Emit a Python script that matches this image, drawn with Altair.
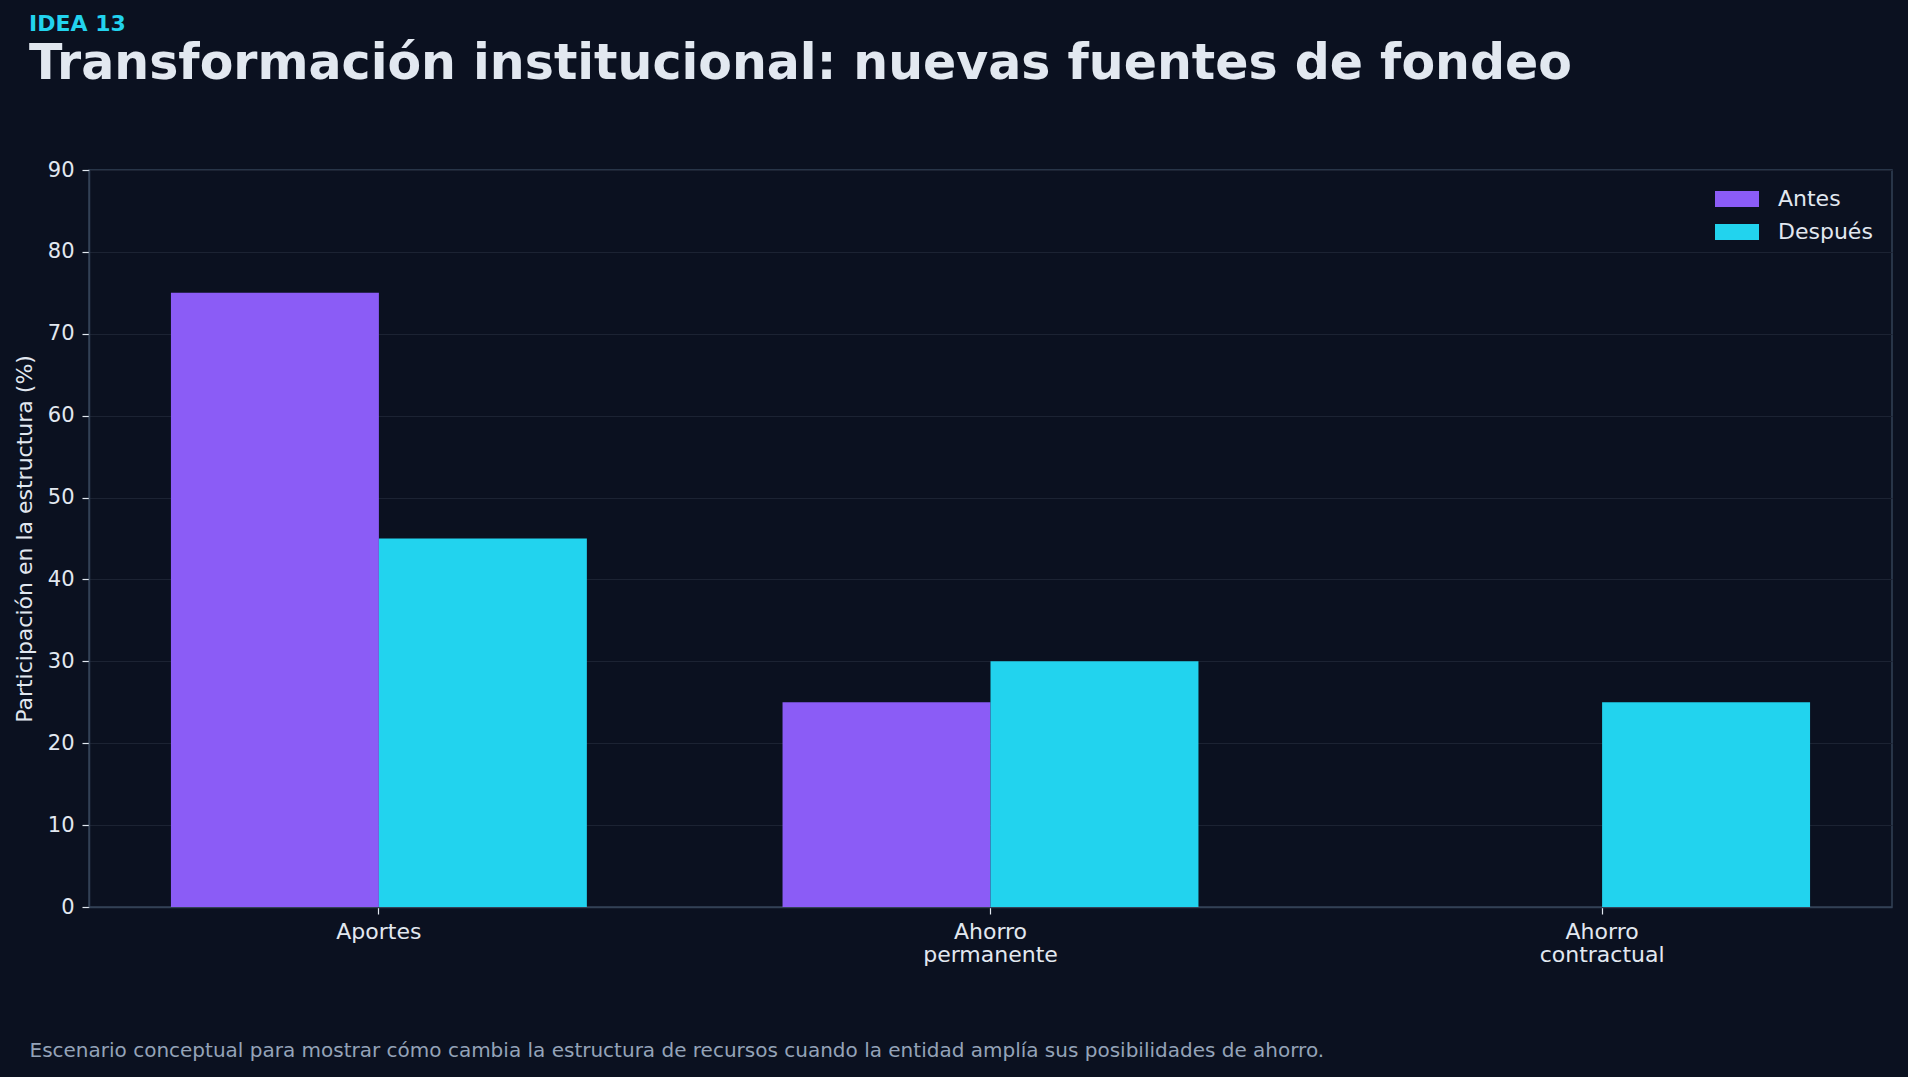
import altair as alt
import pandas as pd

# Funding structure before and after the institutional change (% share)
categorias = ["Aportes", "Ahorro permanente", "Ahorro contractual"]
series = ["Antes", "Después"]
antes = [75, 25, 0]
despues = [45, 30, 25]
colores = ["#8b5cf6", "#22d3ee"]
y_ticks = [0, 10, 20, 30, 40, 50, 60, 70, 80, 90]

rows = []
for cat, a, d in zip(categorias, antes, despues):
    rows.append({"categoria": cat, "serie": series[0], "valor": a})
    rows.append({"categoria": cat, "serie": series[1], "valor": d})
df = pd.DataFrame(rows)

BG = "#0b1120"
TEXT = "#e2e8f0"
MUTED = "#94a3b8"
SPINE = "#334155"
GRID = "#1c2333"
FONT = "DejaVu Sans"

nota = ("Escenario conceptual para mostrar cómo cambia la estructura de recursos "
        "cuando la entidad amplía sus posibilidades de ahorro.")

bars = alt.Chart(df).mark_bar(stroke=None).encode(
    x=alt.X(
        "categoria:N",
        sort=categorias,
        scale=alt.Scale(paddingInner=0.052, paddingOuter=0),
        axis=alt.Axis(
            title=nota,
            titleFont=FONT,
            titleFontSize=20,
            titleFontWeight="normal",
            titleColor=MUTED,
            titleAlign="left",
            titleBaseline="middle",
            titleX=-60,
            titleY=143,
            labelExpr="split(datum.label, ' ')",
            labelAngle=0,
            labelFontSize=22,
            labelColor=TEXT,
            labelPadding=7,
            labelLineHeight=23,
            tickColor=TEXT,
            tickSize=7,
            tickWidth=1.2,
            domainColor=SPINE,
            domainWidth=1.5,
            grid=False,
        ),
    ),
    xOffset=alt.XOffset(
        "serie:N",
        sort=series,
        scale=alt.Scale(domain=series, paddingInner=0, paddingOuter=0.394),
    ),
    y=alt.Y(
        "valor:Q",
        scale=alt.Scale(domain=[0, 90], nice=False),
        axis=alt.Axis(
            title="Participación en la estructura (%)",
            titleFont=FONT,
            titleFontSize=22,
            titleFontWeight="normal",
            titleColor=TEXT,
            titlePadding=11,
            values=y_ticks,
            labelFontSize=21,
            labelColor=TEXT,
            labelPadding=8,
            tickColor=TEXT,
            tickSize=7,
            tickWidth=1.2,
            domainColor=SPINE,
            domainWidth=1.5,
            gridColor=GRID,
            gridWidth=1.2,
        ),
    ),
    color=alt.Color(
        "serie:N",
        sort=series,
        scale=alt.Scale(domain=series, range=colores),
        legend=alt.Legend(
            title=None,
            orient="none",
            legendX=1637,
            legendY=18,
            padding=0,
            symbolType="M-2,-0.72H2V0.72H-2Z",
            symbolSize=484,
            symbolStrokeWidth=0,
            symbolOpacity=1,
            labelFontSize=22,
            labelColor=TEXT,
            labelOffset=30,
            rowPadding=11,
        ),
    ),
)

chart = bars.properties(
    width=1803,
    height=737,
    autosize=alt.AutoSizeParams(type="none"),
    padding={"left": 89, "top": 170, "right": 16, "bottom": 170},
    background=BG,
    title=alt.TitleParams(
        text="IDEA 13",
        subtitle="Transformación institucional: nuevas fuentes de fondeo",
        anchor="start",
        frame="group",
        dx=-60,
        offset=69,
        font=FONT,
        fontSize=22,
        fontWeight="bold",
        color="#22d3ee",
        subtitleFont=FONT,
        subtitleFontSize=49,
        subtitleFontWeight="bold",
        subtitleColor=TEXT,
        subtitlePadding=4,
    ),
).configure(
    font=FONT,
).configure_view(
    fill=BG,
    stroke=SPINE,
    strokeWidth=1.5,
)

chart.save("out.html", embed_options={"renderer": "svg", "actions": False})
